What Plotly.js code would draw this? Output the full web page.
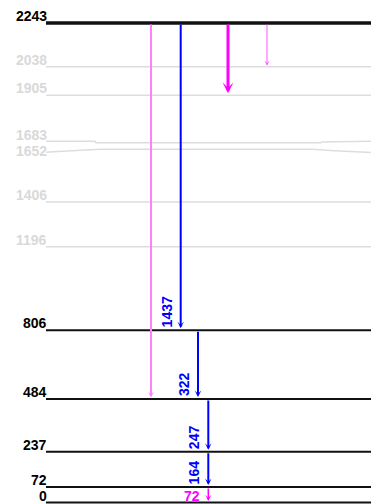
<!DOCTYPE html>
<html>
<head>
<meta charset="utf-8">
<script src="https://cdn.plot.ly/plotly-3.0.1.min.js"></script>
<style>html,body{margin:0;padding:0;background:#fff;}#chart{width:386px;height:504px;}</style>
</head>
<body>
<div id="chart"></div>
<script>
// ---- data ----
const levelEnergies = [0, 72, 237, 484, 806, 1196, 1406, 1652, 1683, 1905, 2038, 2243];
const levelLabels   = ['0', '72', '237', '484', '806', '1196', '1406', '1652', '1683', '1905', '2038', '2243'];
const levelSeen     = [true, true, true, true, true, false, false, false, false, false, false, true];

const transFrom   = [2243, 2243, 2243, 2243, 806, 484, 237, 72];
const transTo     = [484, 806, 1905, 2038, 484, 237, 72, 0];
const transLabels = ['', '1437', '', '', '322', '247', '164', '72'];
const transKind   = ['pinkLight', 'blue', 'magentaThick', 'pinkThin', 'blue', 'blue', 'blue', 'magenta'];

// ---- layout helpers (styles / positions) ----
const W = 386, H = 504;
const yMin = -7, yMax = 2350.6;
const uPerPx = (yMax - yMin) / H;
const lineX0 = 46, lineX1 = 371;
const arrowX = [151, 180.7, 228, 267, 198, 208.3, 208.3, 208.3];
const kindStyle = {
  pinkLight:    {color: '#ff80ff', width: 2,   size: 0.5,  standoff: 1.5},
  blue:         {color: '#0000ff', width: 2,   size: 0.55, standoff: 2},
  magentaThick: {color: '#ff00ff', width: 3,   size: 0.6,  standoff: 2},
  pinkThin:     {color: '#ff55ff', width: 1,   size: 0.9,  standoff: 1},
  magenta:      {color: '#ff00ff', width: 1.5, size: 0.7,  standoff: 1.5}
};
const fontFam = '"Liberation Sans", Arial, Helvetica, sans-serif';

// small kinks of the connector lines for the crowded 1652/1683 labels (pixel offsets, down = +)
const kinks = {
  1683: {xs: [46, 95, 96, 321, 322, 353, 354, 371], dpx: [-1.5, -1.5, 0, 0, -0.8, -0.8, -1.5, -1.5]},
  1652: {xs: [46, 53, 100, 313, 330, 346, 371], dpx: [3, 2.5, 0, 0, 1.2, 2.2, 3.2]}
};

const traces = [];
levelEnergies.forEach((e, i) => {
  let xs = [lineX0, lineX1], ys = [e, e];
  if (kinks[e]) {
    xs = kinks[e].xs;
    ys = kinks[e].dpx.map(d => e - d * uPerPx);
  }
  const isTop = e === 2243;
  traces.push({
    type: 'scatter', mode: 'lines', x: xs, y: ys, hoverinfo: 'skip', showlegend: false,
    line: {color: levelSeen[i] ? '#111111' : '#dddddd', width: isTop ? 3.5 : (levelSeen[i] ? 2 : 1.5), shape: 'linear'}
  });
});

const annotations = [];
// level labels
levelEnergies.forEach((e, i) => {
  let ys = -2;
  if (e === 1652) ys = -11;
  if (e === 1683) ys = -1;
  annotations.push({
    x: 48, y: e, xref: 'x', yref: 'y', text: levelLabels[i], showarrow: false,
    xanchor: 'right', yanchor: 'bottom', yshift: ys, borderpad: 0,
    font: {family: fontFam, size: 14, weight: 'bold', color: levelSeen[i] ? '#000000' : '#d9d9d9'}
  });
});
// transitions
transFrom.forEach((f, i) => {
  const st = kindStyle[transKind[i]];
  annotations.push({
    x: arrowX[i], y: transTo[i], ax: arrowX[i], ay: f, xref: 'x', yref: 'y', axref: 'x', ayref: 'y',
    text: '', showarrow: true, arrowhead: 3, arrowcolor: st.color, arrowwidth: st.width,
    arrowsize: st.size, standoff: st.standoff, startstandoff: 0
  });
  if (transLabels[i]) {
    const horizontal = transKind[i] === 'magenta';
    annotations.push({
      x: arrowX[i], y: transTo[i], xref: 'x', yref: 'y', text: transLabels[i], showarrow: false,
      textangle: horizontal ? 0 : -90, xanchor: 'right', yanchor: 'bottom',
      xshift: horizontal ? -7 : -5, yshift: horizontal ? -2 : 2, borderpad: 0,
      font: {family: fontFam, size: 14, weight: 'bold', color: st.color}
    });
  }
});

const layout = {
  width: W, height: H, margin: {l: 0, r: 0, t: 0, b: 0, pad: 0},
  paper_bgcolor: '#ffffff', plot_bgcolor: '#ffffff',
  xaxis: {range: [0, W], visible: false, fixedrange: true},
  yaxis: {range: [yMin, yMax], visible: false, fixedrange: true},
  showlegend: false, hovermode: false,
  annotations: annotations
};
Plotly.newPlot('chart', traces, layout, {displayModeBar: false, staticPlot: true});
</script>
</body>
</html>
